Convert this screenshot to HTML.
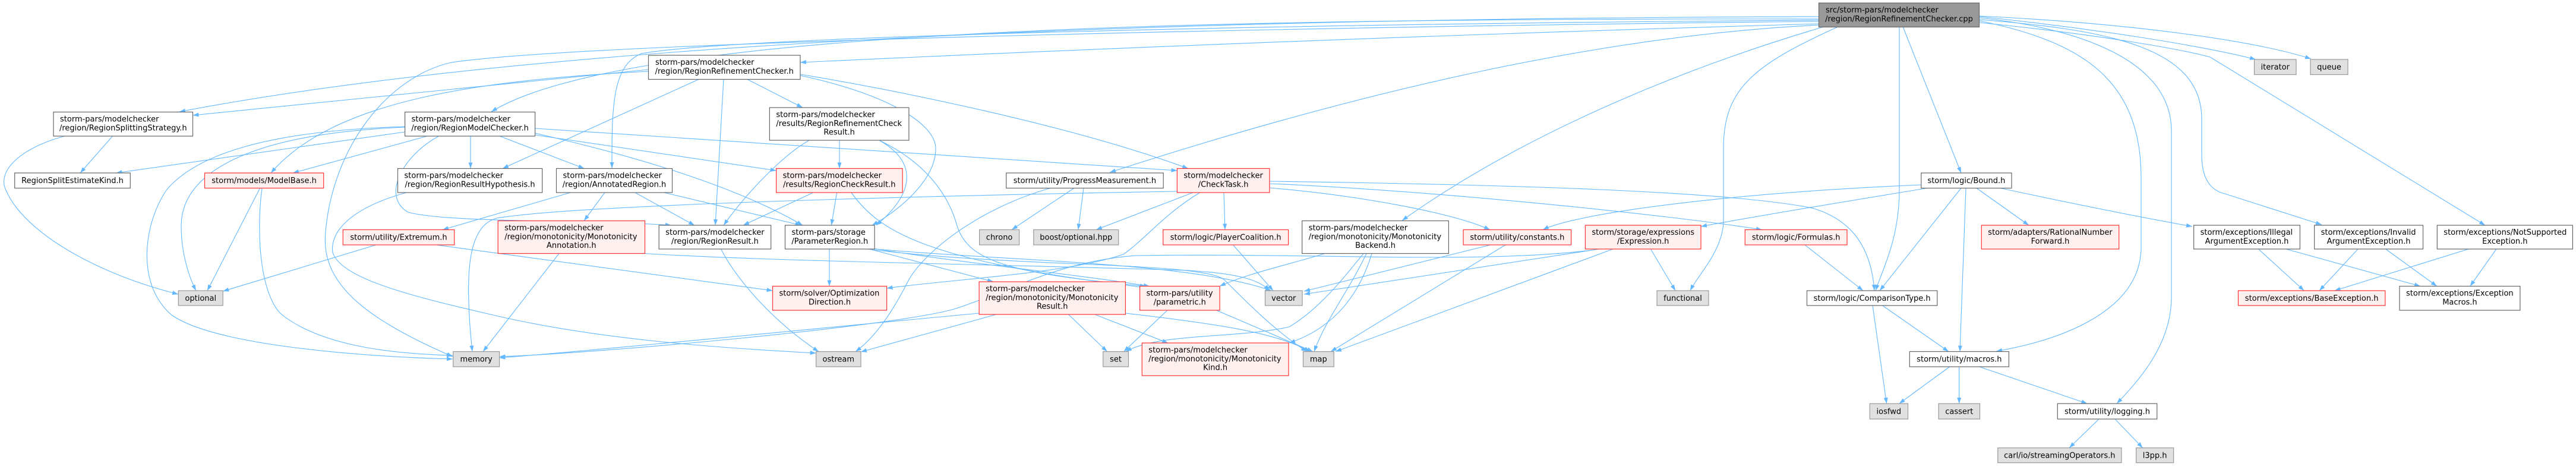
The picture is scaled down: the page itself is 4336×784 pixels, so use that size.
<!DOCTYPE html>
<html><head><meta charset="utf-8"><style>
html,body{margin:0;padding:0;background:#fff;}
svg{display:block;}
text{font-family:"DejaVu Sans","Liberation Sans",sans-serif;font-size:13px;fill:#000;}
.e{fill:none;stroke:#63b8ff;stroke-width:1.1;marker-end:url(#a);}
.w{fill:#fff;stroke:#666;stroke-width:1.2;}
.r{fill:#fff0f0;stroke:#f33;stroke-width:1.2;}
.g{fill:#e0e0e0;stroke:#999;stroke-width:1.2;}
.k{fill:#999;stroke:#666;stroke-width:1.2;}
.m{text-anchor:middle;}
</style></head><body>
<svg width="4336" height="784" viewBox="0 0 4336 784" xmlns="http://www.w3.org/2000/svg">
<defs><marker id="a" viewBox="0 0 10 7" refX="10" refY="3.5" markerWidth="10" markerHeight="7" markerUnits="userSpaceOnUse" orient="auto"><path d="M0,0 L10,3.5 L0,7 z" fill="#63b8ff"/></marker></defs>
<g>
<!-- root edges -->
<path class="e" d="M3062,40 Q2200,65 1347,105"/>
<path class="e" d="M3062,28 C2200,30 1000,55 302,188"/>
<path class="e" d="M3062,32 C2000,30 1050,50 827,188"/>
<path class="e" d="M3062,34 C2200,40 1250,60 1080,90 C1030,110 1030,180 1030,283"/>
<path class="e" d="M3062,36 C2200,45 1000,70 760,105 C650,130 560,250 548,390 C540,470 600,530 762,600"/>
<path class="e" d="M3062,42 C2700,60 2300,150 1868,290"/>
<path class="e" d="M3070,45 C2900,95 2600,200 2360,371"/>
<path class="e" d="M3094,45 C2950,110 2901,150 2901,250 L2901,370 C2901,420 2860,460 2845,489"/>
<path class="e" d="M3197,45 L3197,320 C3197,400 3170,450 3157,489"/>
<path class="e" d="M3203,45 L3301,291"/>
<path class="e" d="M3332,35 C3500,70 3604,130 3604,300 L3604,420 C3600,520 3480,570 3360,591"/>
<path class="e" d="M3332,30 C3520,50 3655,110 3655,220 L3655,500 C3655,580 3600,640 3563,679"/>
<path class="e" d="M3332,28 C3500,45 3700,75 3797,100"/>
<path class="e" d="M3332,27 C3600,40 3800,70 3890,99"/>
<path class="e" d="M3332,33 C3550,50 3706,80 3706,200 L3706,260 C3706,300 3720,320 3745,326 L3908,378"/>
<path class="e" d="M3332,38 C3550,60 3680,85 3720,96 L4183,379"/>
<!-- RRC -->
<path class="e" d="M1092,117 L324.5,194"/>
<path class="e" d="M1092,120 C800,135 560,170 456,291"/>
<path class="e" d="M1176,133.5 L846,283.5"/>
<path class="e" d="M1218,133.5 L1204,379"/>
<path class="e" d="M1258,133.5 L1351,181"/>
<path class="e" d="M1347,125 C1500,150 1800,210 2000,283.5"/>
<path class="e" d="M1347,127 C1500,160 1575,210 1575,250 C1575,300 1520,350 1468,379"/>
<!-- RMC -->
<path class="e" d="M681.6,222 L195.5,291"/>
<path class="e" d="M719,229 L493,291"/>
<path class="e" d="M681.6,214 C420,225 305,290 305,380 C305,430 320,470 330,489"/>
<path class="e" d="M681.6,213 C450,220 330,260 280,320 C240,380 230,480 289,530 C360,580 600,600 762,604"/>
<path class="e" d="M792,229 L792,283.5"/>
<path class="e" d="M841,229 L983.5,283.5"/>
<path class="e" d="M900.6,227 L1306.6,287"/>
<path class="e" d="M900.6,224 C1100,270 1250,320 1351,379"/>
<path class="e" d="M900.6,216 L1981.4,287"/>
<path class="e" d="M738.6,229 C680,260 640,330 687,357 C750,375 1000,370 1130,379"/>
<!-- RSS / ModelBase / Extremum -->
<path class="e" d="M189.5,229 L135,291"/>
<path class="e" d="M109,229 C30,250 -5,290 10,320 C40,390 160,460 300,495"/>
<path class="e" d="M437.6,316.5 L349,489"/>
<path class="e" d="M441,316.5 C430,400 440,500 475,530 C540,580 650,595 762,598"/>
<path class="e" d="M633,412 L375.2,490"/>
<path class="e" d="M734,412 L1300.5,489"/>
<!-- RRH / AR / MA / RR -->
<path class="e" d="M684,324 C590,350 555,390 560,425 C575,470 700,500 830,530 C1000,570 1200,585 1373.6,594"/>
<path class="e" d="M960,324 L745,386.5"/>
<path class="e" d="M1018,324 L983,371.5"/>
<path class="e" d="M1069,324 L1169,379"/>
<path class="e" d="M1118,324 L1348.5,379"/>
<path class="e" d="M941,426.5 L813,591.5"/>
<path class="e" d="M1085.5,426.5 C1300,440 1700,445 2000,455 C2080,460 2120,470 2137,489"/>
<path class="e" d="M1213.5,419 C1240,470 1300,540 1378,591.5"/>
<!-- PR -->
<path class="e" d="M1396,419 L1396,481.5"/>
<path class="e" d="M1463.7,419 L1672,474"/>
<path class="e" d="M1463.7,417 C1600,440 1800,460 1935,481.5"/>
<path class="e" d="M1463.7,418 C1700,440 2000,440 2140,489"/>
<path class="e" d="M1460,419 C1700,450 2020,440 2060,470 C2100,510 2150,560 2200,591.5"/>
<!-- RRCR / RCR -->
<path class="e" d="M1413,236 L1413,283.5"/>
<path class="e" d="M1362,236 C1320,260 1260,320 1218,379"/>
<path class="e" d="M1480,236 C1540,270 1545,320 1475,379"/>
<path class="e" d="M1482,237 C1570,280 1600,340 1611,380 C1630,440 1700,460 1929,481.5"/>
<path class="e" d="M1408.6,324 L1399.4,379"/>
<path class="e" d="M1368.8,324 L1251,379"/>
<path class="e" d="M1433,324 C1480,390 1560,440 1929,484"/>
<!-- CT -->
<path class="e" d="M2008,324 L1845,386.5"/>
<path class="e" d="M2060,324 L2062,386.5"/>
<path class="e" d="M2019.6,324 C1960,360 1930,400 1891.6,427.5 C1800,460 1600,470 1492.6,485"/>
<path class="e" d="M1981.4,322 C1800,325 1000,340 836,367 C790,380 780,450 795,591.5"/>
<path class="e" d="M2137,305 C2500,310 2900,320 3050,350 C3120,370 3150,420 3155,489"/>
<path class="e" d="M2137,316 C2300,330 2450,360 2508,386.5"/>
<path class="e" d="M2137,309 C2400,320 2800,360 2966,386.5"/>
<!-- PM / PC -->
<path class="e" d="M1807.8,316.5 L1703,386.5"/>
<path class="e" d="M1824,316.5 L1814.8,386.5"/>
<path class="e" d="M1768,316.5 C1650,350 1560,420 1530,470 C1500,530 1470,570 1440,591.5"/>
<path class="e" d="M2075.5,412 L2143,489"/>
<!-- MR / param -->
<path class="e" d="M1648,527 C1400,550 1000,590 840.6,602"/>
<path class="e" d="M1677,529 L1449,592"/>
<path class="e" d="M1798.5,529 L1863.6,591.5"/>
<path class="e" d="M1842.7,529 L1966,577"/>
<path class="e" d="M1894.4,527 C2050,545 2150,560 2205,591.5"/>
<path class="e" d="M1965,522 L1891.6,591.5"/>
<path class="e" d="M2047.5,522 L2210,591.5"/>
<!-- MB -->
<path class="e" d="M2230,426.5 C2170,445 2100,460 2053,481.5"/>
<path class="e" d="M2295,426.5 C2260,470 2220,520 2170,550 C2080,570 1950,560 1895,591.5"/>
<path class="e" d="M2309,426.5 C2290,490 2250,550 2170,577"/>
<path class="e" d="M2300,426.5 C2270,490 2230,540 2212,591.5"/>
<!-- constants / Expression / Formulas / Bound -->
<path class="e" d="M2509,412 L2195,490"/>
<path class="e" d="M2534,412 L2240,591.5"/>
<path class="e" d="M2692,419 L2195,495"/>
<path class="e" d="M2715,419 L2248,591.5"/>
<path class="e" d="M2778.5,419 L2820,489"/>
<path class="e" d="M2686,420 C2500,445 2200,425 1912,430 C1780,440 1700,490 1606,520 C1500,550 1000,595 840.6,600"/>
<path class="e" d="M3038,412 L3136,489"/>
<path class="e" d="M3301,316.5 L3164,489"/>
<path class="e" d="M3309,316.5 L3299,591.5"/>
<path class="e" d="M3327,316.5 L3415,379"/>
<path class="e" d="M3367,316.5 C3500,345 3600,365 3690,381"/>
<path class="e" d="M3234,311 C2900,325 2650,360 2597,386.5"/>
<path class="e" d="M3244,316.5 C3100,340 2950,365 2863,381"/>
<!-- lower right -->
<path class="e" d="M3152,514 L3175.6,679"/>
<path class="e" d="M3168.6,514 L3280,591.5"/>
<path class="e" d="M3281.7,617 L3196.7,679"/>
<path class="e" d="M3297.7,617 L3297.7,679"/>
<path class="e" d="M3331.7,617 L3513.3,679"/>
<path class="e" d="M3533,705 L3483,753.5"/>
<path class="e" d="M3560,705 L3606.7,753.5"/>
<!-- exceptions -->
<path class="e" d="M3801.5,419 L3878.3,489"/>
<path class="e" d="M3848,419 L4074,481.5"/>
<path class="e" d="M3969,419 L3904,489"/>
<path class="e" d="M4015.7,419 L4101.8,481.5"/>
<path class="e" d="M4155,419 L3929.6,489"/>
<path class="e" d="M4201.9,419 L4157.7,481.5"/>
</g>
<g>
<rect class="k" x="3061.5" y="5" width="270" height="40.5"/>
<text x="3073" y="21">src/storm-pars/modelchecker</text><text class="m" x="3196.5" y="36">/region/RegionRefinementChecker.cpp</text>

<rect class="w" x="1091.5" y="93" width="255.5" height="40.5"/>
<text x="1103" y="109">storm-pars/modelchecker</text><text class="m" x="1219.25" y="124">/region/RegionRefinementChecker.h</text>

<rect class="g" x="3794.5" y="100" width="70.5" height="25.5"/><text class="m" x="3829.75" y="117">iterator</text>
<rect class="g" x="3889" y="100" width="63" height="25.5"/><text class="m" x="3920.5" y="117">queue</text>

<rect class="w" x="90" y="188.5" width="234.5" height="40.5"/>
<text x="101" y="204.5">storm-pars/modelchecker</text><text class="m" x="207.25" y="219.5">/region/RegionSplittingStrategy.h</text>

<rect class="w" x="681.6" y="188.5" width="219" height="40.5"/>
<text x="692.6" y="204.5">storm-pars/modelchecker</text><text class="m" x="791.1" y="219.5">/region/RegionModelChecker.h</text>

<rect class="w" x="1295.4" y="181" width="234.5" height="55"/>
<text x="1306.4" y="197">storm-pars/modelchecker</text><text x="1306.4" y="212">/results/RegionRefinementCheck</text><text class="m" x="1412.65" y="226.5">Result.h</text>

<rect class="w" x="24.7" y="291" width="194.6" height="25.5"/><text class="m" x="122" y="308">RegionSplitEstimateKind.h</text>
<rect class="r" x="344.5" y="291" width="200.2" height="25.5"/><text class="m" x="444.6" y="308">storm/models/ModelBase.h</text>

<rect class="w" x="669.5" y="283.5" width="243.2" height="40.5"/>
<text x="680.5" y="299.5">storm-pars/modelchecker</text><text class="m" x="791.1" y="314.5">/region/RegionResultHypothesis.h</text>

<rect class="w" x="936.5" y="283.5" width="195" height="40.5"/>
<text x="947.5" y="299.5">storm-pars/modelchecker</text><text class="m" x="1034" y="314.5">/region/AnnotatedRegion.h</text>

<rect class="r" x="1306.6" y="283.5" width="212.5" height="40.5"/>
<text x="1317.6" y="299.5">storm-pars/modelchecker</text><text class="m" x="1412.85" y="314.5">/results/RegionCheckResult.h</text>

<rect class="w" x="1693.7" y="291" width="264.5" height="25.5"/><text class="m" x="1825.95" y="308">storm/utility/ProgressMeasurement.h</text>

<rect class="r" x="1981.4" y="283.5" width="155.5" height="40.5"/>
<text x="1992.4" y="299.5">storm/modelchecker</text><text class="m" x="2059.15" y="314.5">/CheckTask.h</text>

<rect class="w" x="3233.8" y="291" width="152.2" height="25.5"/><text class="m" x="3309.9" y="308">storm/logic/Bound.h</text>

<rect class="r" x="577.3" y="386.5" width="187.4" height="25.5"/><text class="m" x="671" y="403.5">storm/utility/Extremum.h</text>

<rect class="r" x="838.2" y="371.5" width="247.3" height="55"/>
<text x="849.2" y="387.5">storm-pars/modelchecker</text><text x="849.2" y="402.5">/region/monotonicity/Monotonicity</text><text class="m" x="961.85" y="417">Annotation.h</text>

<rect class="w" x="1109.2" y="379" width="188.5" height="40"/>
<text x="1120.2" y="395">storm-pars/modelchecker</text><text class="m" x="1203.45" y="410">/region/RegionResult.h</text>

<rect class="w" x="1321.5" y="379" width="150.6" height="40"/>
<text x="1332.5" y="395">storm-pars/storage</text><text class="m" x="1396.8" y="410">/ParameterRegion.h</text>

<rect class="g" x="1648.6" y="386.5" width="67" height="25.5"/><text class="m" x="1682.1" y="403.5">chrono</text>
<rect class="g" x="1739.8" y="386.5" width="142.9" height="25.5"/><text class="m" x="1811.25" y="403.5">boost/optional.hpp</text>
<rect class="r" x="1957.7" y="386.5" width="210.9" height="25.5"/><text class="m" x="2063.15" y="403.5">storm/logic/PlayerCoalition.h</text>

<rect class="w" x="2191.7" y="371.5" width="246.7" height="55"/>
<text x="2202.7" y="387.5">storm-pars/modelchecker</text><text x="2202.7" y="402.5">/region/monotonicity/Monotonicity</text><text class="m" x="2315.05" y="417">Backend.h</text>

<rect class="r" x="2463.1" y="386.5" width="181.5" height="25.5"/><text class="m" x="2553.85" y="403.5">storm/utility/constants.h</text>

<rect class="r" x="2668.4" y="379" width="194.6" height="40"/>
<text x="2679.4" y="395">storm/storage/expressions</text><text class="m" x="2765.7" y="410">/Expression.h</text>

<rect class="r" x="2937.3" y="386.5" width="171.7" height="25.5"/><text class="m" x="3023.15" y="403.5">storm/logic/Formulas.h</text>

<rect class="r" x="3335.3" y="379" width="231.4" height="40"/>
<text x="3346.3" y="395">storm/adapters/RationalNumber</text><text class="m" x="3451" y="410">Forward.h</text>

<rect class="w" x="3692.6" y="379" width="178.8" height="40"/>
<text x="3703.6" y="395">storm/exceptions/Illegal</text><text class="m" x="3782" y="410">ArgumentException.h</text>

<rect class="w" x="3895.6" y="379" width="182.9" height="40"/>
<text x="3906.6" y="395">storm/exceptions/Invalid</text><text class="m" x="3987.05" y="410">ArgumentException.h</text>

<rect class="w" x="4102.3" y="379" width="228.1" height="40"/>
<text x="4113.3" y="395">storm/exceptions/NotSupported</text><text class="m" x="4216.35" y="410">Exception.h</text>

<rect class="g" x="300.3" y="489" width="74.9" height="25"/><text class="m" x="337.75" y="506">optional</text>

<rect class="r" x="1300.5" y="481.5" width="192.1" height="40.5"/>
<text x="1311.5" y="497.5">storm/solver/Optimization</text><text class="m" x="1396.55" y="512.5">Direction.h</text>

<rect class="r" x="1648.1" y="474" width="246.3" height="55"/>
<text x="1659.1" y="490">storm-pars/modelchecker</text><text x="1659.1" y="505">/region/monotonicity/Monotonicity</text><text class="m" x="1771.25" y="519.5">Result.h</text>

<rect class="r" x="1918.6" y="481.5" width="134.5" height="40.5"/>
<text x="1929.6" y="497.5">storm-pars/utility</text><text class="m" x="1985.85" y="512.5">/parametric.h</text>

<rect class="g" x="2129.5" y="489" width="62.6" height="25"/><text class="m" x="2160.8" y="506">vector</text>
<rect class="g" x="2789" y="489" width="87" height="25"/><text class="m" x="2832.5" y="506">functional</text>
<rect class="w" x="3041.5" y="489" width="219.3" height="25"/><text class="m" x="3151.15" y="506">storm/logic/ComparisonType.h</text>
<rect class="r" x="3767.5" y="489" width="247.3" height="25"/><text class="m" x="3891.15" y="506">storm/exceptions/BaseException.h</text>

<rect class="w" x="4039" y="481.5" width="202.9" height="40.5"/>
<text x="4050" y="497.5">storm/exceptions/Exception</text><text class="m" x="4140.45" y="512.5">Macros.h</text>

<rect class="g" x="762.8" y="591.5" width="77.8" height="25.5"/><text class="m" x="801.7" y="608.5">memory</text>
<rect class="g" x="1373.6" y="591.5" width="75.4" height="25.5"/><text class="m" x="1411.3" y="608.5">ostream</text>
<rect class="g" x="1856.7" y="591.5" width="42.8" height="25.5"/><text class="m" x="1878.1" y="608.5">set</text>

<rect class="r" x="1922.3" y="577" width="246.7" height="55"/>
<text x="1933.3" y="593">storm-pars/modelchecker</text><text x="1933.3" y="608">/region/monotonicity/Monotonicity</text><text class="m" x="2045.65" y="622.5">Kind.h</text>

<rect class="g" x="2193.5" y="591.5" width="51.7" height="25.5"/><text class="m" x="2219.35" y="608.5">map</text>
<rect class="w" x="3214.3" y="591.5" width="167.1" height="25.5"/><text class="m" x="3297.85" y="608.5">storm/utility/macros.h</text>

<rect class="g" x="3147.2" y="679" width="64.3" height="26"/><text class="m" x="3179.35" y="696.5">iosfwd</text>
<rect class="g" x="3263.1" y="679" width="69.4" height="26"/><text class="m" x="3297.8" y="696.5">cassert</text>
<rect class="w" x="3463.3" y="679" width="167.4" height="26"/><text class="m" x="3547" y="696.5">storm/utility/logging.h</text>

<rect class="g" x="3362.8" y="753.5" width="208.1" height="25"/><text class="m" x="3466.85" y="770.5">carl/io/streamingOperators.h</text>
<rect class="g" x="3595.6" y="753.5" width="63" height="25"/><text class="m" x="3627.1" y="770.5">l3pp.h</text>
</g>
</svg>
</body></html>
